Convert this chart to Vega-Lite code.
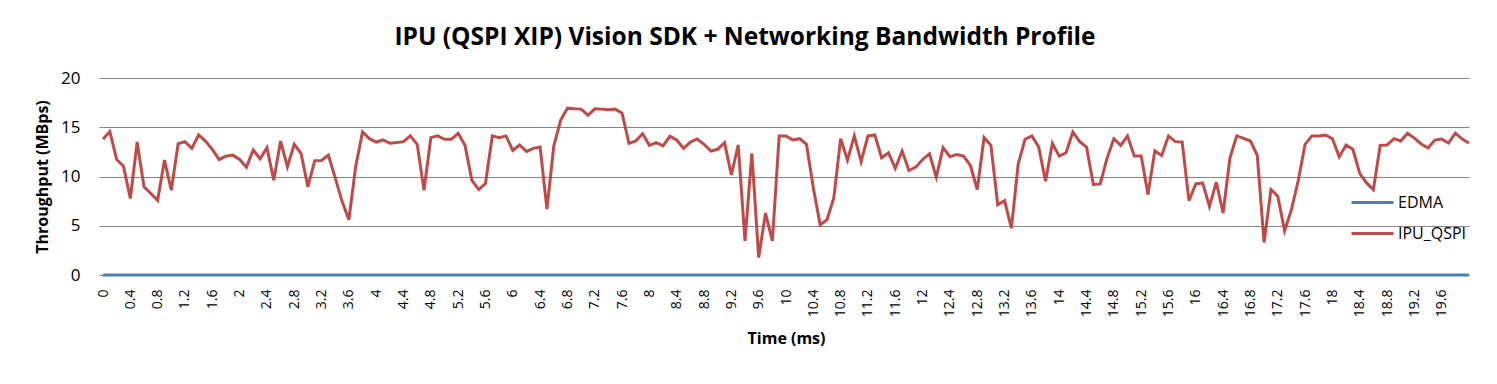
{
 "$schema": "https://vega.github.io/schema/vega-lite/v6.json",
 "width": 1366, "height": 197,
 "autosize": "none",
 "padding": {"left": 103, "top": 78, "right": 28, "bottom": 109},
 "background": "white",
 "title": {"text": "IPU (QSPI XIP) Vision SDK + Networking Bandwidth Profile", "anchor": "middle", "frame": "group", "dx": -41, "offset": 19, "fontSize": 24.5, "font": "Open Sans", "fontWeight": "bold", "color": "#000000"},
 "data": {"values": [
{"t":0,"EDMA":0,"IPU_QSPI":13.78},{"t":0.1,"EDMA":0,"IPU_QSPI":14.56},{"t":0.2,"EDMA":0,"IPU_QSPI":11.73},{"t":0.3,"EDMA":0,"IPU_QSPI":11.05},{"t":0.4,"EDMA":0,"IPU_QSPI":7.76},{"t":0.5,"EDMA":0,"IPU_QSPI":13.5},{"t":0.6,"EDMA":0,"IPU_QSPI":8.95},{"t":0.7,"EDMA":0,"IPU_QSPI":8.27},{"t":0.8,"EDMA":0,"IPU_QSPI":7.58},{"t":0.9,"EDMA":0,"IPU_QSPI":11.67},
{"t":1,"EDMA":0,"IPU_QSPI":8.6},{"t":1.1,"EDMA":0,"IPU_QSPI":13.33},{"t":1.2,"EDMA":0,"IPU_QSPI":13.54},{"t":1.3,"EDMA":0,"IPU_QSPI":12.86},{"t":1.4,"EDMA":0,"IPU_QSPI":14.22},{"t":1.5,"EDMA":0,"IPU_QSPI":13.6},{"t":1.6,"EDMA":0,"IPU_QSPI":12.76},{"t":1.7,"EDMA":0,"IPU_QSPI":11.73},{"t":1.8,"EDMA":0,"IPU_QSPI":12.07},{"t":1.9,"EDMA":0,"IPU_QSPI":12.17},
{"t":2,"EDMA":0,"IPU_QSPI":11.73},{"t":2.1,"EDMA":0,"IPU_QSPI":10.95},{"t":2.2,"EDMA":0,"IPU_QSPI":12.69},{"t":2.3,"EDMA":0,"IPU_QSPI":11.8},{"t":2.4,"EDMA":0,"IPU_QSPI":12.93},{"t":2.5,"EDMA":0,"IPU_QSPI":9.63},{"t":2.6,"EDMA":0,"IPU_QSPI":13.6},{"t":2.7,"EDMA":0,"IPU_QSPI":10.99},{"t":2.8,"EDMA":0,"IPU_QSPI":13.27},{"t":2.9,"EDMA":0,"IPU_QSPI":12.35},
{"t":3,"EDMA":0,"IPU_QSPI":8.95},{"t":3.1,"EDMA":0,"IPU_QSPI":11.6},{"t":3.2,"EDMA":0,"IPU_QSPI":11.63},{"t":3.3,"EDMA":0,"IPU_QSPI":12.17},{"t":3.4,"EDMA":0,"IPU_QSPI":9.86},{"t":3.5,"EDMA":0,"IPU_QSPI":7.48},{"t":3.6,"EDMA":0,"IPU_QSPI":5.61},{"t":3.7,"EDMA":0,"IPU_QSPI":11.05},{"t":3.8,"EDMA":0,"IPU_QSPI":14.52},{"t":3.9,"EDMA":0,"IPU_QSPI":13.84},
{"t":4,"EDMA":0,"IPU_QSPI":13.5},{"t":4.1,"EDMA":0,"IPU_QSPI":13.71},{"t":4.2,"EDMA":0,"IPU_QSPI":13.37},{"t":4.3,"EDMA":0,"IPU_QSPI":13.44},{"t":4.4,"EDMA":0,"IPU_QSPI":13.54},{"t":4.5,"EDMA":0,"IPU_QSPI":14.12},{"t":4.6,"EDMA":0,"IPU_QSPI":13.27},{"t":4.7,"EDMA":0,"IPU_QSPI":8.6},{"t":4.8,"EDMA":0,"IPU_QSPI":13.95},{"t":4.9,"EDMA":0,"IPU_QSPI":14.12},
{"t":5,"EDMA":0,"IPU_QSPI":13.78},{"t":5.1,"EDMA":0,"IPU_QSPI":13.78},{"t":5.2,"EDMA":0,"IPU_QSPI":14.39},{"t":5.3,"EDMA":0,"IPU_QSPI":13.16},{"t":5.4,"EDMA":0,"IPU_QSPI":9.63},{"t":5.5,"EDMA":0,"IPU_QSPI":8.67},{"t":5.6,"EDMA":0,"IPU_QSPI":9.29},{"t":5.7,"EDMA":0,"IPU_QSPI":14.12},{"t":5.8,"EDMA":0,"IPU_QSPI":13.95},{"t":5.9,"EDMA":0,"IPU_QSPI":14.12},
{"t":6,"EDMA":0,"IPU_QSPI":12.65},{"t":6.1,"EDMA":0,"IPU_QSPI":13.2},{"t":6.2,"EDMA":0,"IPU_QSPI":12.55},{"t":6.3,"EDMA":0,"IPU_QSPI":12.86},{"t":6.4,"EDMA":0,"IPU_QSPI":12.99},{"t":6.5,"EDMA":0,"IPU_QSPI":6.7},{"t":6.6,"EDMA":0,"IPU_QSPI":13.1},{"t":6.7,"EDMA":0,"IPU_QSPI":15.71},{"t":6.8,"EDMA":0,"IPU_QSPI":16.94},{"t":6.9,"EDMA":0,"IPU_QSPI":16.87},
{"t":7,"EDMA":0,"IPU_QSPI":16.84},{"t":7.1,"EDMA":0,"IPU_QSPI":16.22},{"t":7.2,"EDMA":0,"IPU_QSPI":16.87},{"t":7.3,"EDMA":0,"IPU_QSPI":16.84},{"t":7.4,"EDMA":0,"IPU_QSPI":16.77},{"t":7.5,"EDMA":0,"IPU_QSPI":16.84},{"t":7.6,"EDMA":0,"IPU_QSPI":16.43},{"t":7.7,"EDMA":0,"IPU_QSPI":13.37},{"t":7.8,"EDMA":0,"IPU_QSPI":13.6},{"t":7.9,"EDMA":0,"IPU_QSPI":14.35},
{"t":8,"EDMA":0,"IPU_QSPI":13.16},{"t":8.1,"EDMA":0,"IPU_QSPI":13.44},{"t":8.2,"EDMA":0,"IPU_QSPI":13.1},{"t":8.3,"EDMA":0,"IPU_QSPI":14.08},{"t":8.4,"EDMA":0,"IPU_QSPI":13.71},{"t":8.5,"EDMA":0,"IPU_QSPI":12.86},{"t":8.6,"EDMA":0,"IPU_QSPI":13.5},{"t":8.7,"EDMA":0,"IPU_QSPI":13.81},{"t":8.8,"EDMA":0,"IPU_QSPI":13.27},{"t":8.9,"EDMA":0,"IPU_QSPI":12.59},
{"t":9,"EDMA":0,"IPU_QSPI":12.76},{"t":9.1,"EDMA":0,"IPU_QSPI":13.44},{"t":9.2,"EDMA":0,"IPU_QSPI":10.15},{"t":9.3,"EDMA":0,"IPU_QSPI":13.2},{"t":9.4,"EDMA":0,"IPU_QSPI":3.47},{"t":9.5,"EDMA":0,"IPU_QSPI":12.35},{"t":9.6,"EDMA":0,"IPU_QSPI":1.77},{"t":9.7,"EDMA":0,"IPU_QSPI":6.29},{"t":9.8,"EDMA":0,"IPU_QSPI":3.47},{"t":9.9,"EDMA":0,"IPU_QSPI":14.12},
{"t":10,"EDMA":0,"IPU_QSPI":14.12},{"t":10.1,"EDMA":0,"IPU_QSPI":13.71},{"t":10.2,"EDMA":0,"IPU_QSPI":13.84},{"t":10.3,"EDMA":0,"IPU_QSPI":13.27},{"t":10.4,"EDMA":0,"IPU_QSPI":8.84},{"t":10.5,"EDMA":0,"IPU_QSPI":5.1},{"t":10.6,"EDMA":0,"IPU_QSPI":5.61},{"t":10.7,"EDMA":0,"IPU_QSPI":7.82},{"t":10.8,"EDMA":0,"IPU_QSPI":13.84},{"t":10.9,"EDMA":0,"IPU_QSPI":11.67},
{"t":11,"EDMA":0,"IPU_QSPI":14.12},{"t":11.1,"EDMA":0,"IPU_QSPI":11.5},{"t":11.2,"EDMA":0,"IPU_QSPI":14.12},{"t":11.3,"EDMA":0,"IPU_QSPI":14.22},{"t":11.4,"EDMA":0,"IPU_QSPI":11.9},{"t":11.5,"EDMA":0,"IPU_QSPI":12.41},{"t":11.6,"EDMA":0,"IPU_QSPI":10.82},{"t":11.7,"EDMA":0,"IPU_QSPI":12.59},{"t":11.8,"EDMA":0,"IPU_QSPI":10.61},{"t":11.9,"EDMA":0,"IPU_QSPI":10.95},
{"t":12,"EDMA":0,"IPU_QSPI":11.73},{"t":12.1,"EDMA":0,"IPU_QSPI":12.31},{"t":12.2,"EDMA":0,"IPU_QSPI":9.95},{"t":12.3,"EDMA":0,"IPU_QSPI":12.93},{"t":12.4,"EDMA":0,"IPU_QSPI":12.01},{"t":12.5,"EDMA":0,"IPU_QSPI":12.24},{"t":12.6,"EDMA":0,"IPU_QSPI":12.07},{"t":12.7,"EDMA":0,"IPU_QSPI":11.12},{"t":12.8,"EDMA":0,"IPU_QSPI":8.67},{"t":12.9,"EDMA":0,"IPU_QSPI":13.95},
{"t":13,"EDMA":0,"IPU_QSPI":13.16},{"t":13.1,"EDMA":0,"IPU_QSPI":7.14},{"t":13.2,"EDMA":0,"IPU_QSPI":7.55},{"t":13.3,"EDMA":0,"IPU_QSPI":4.76},{"t":13.4,"EDMA":0,"IPU_QSPI":11.29},{"t":13.5,"EDMA":0,"IPU_QSPI":13.78},{"t":13.6,"EDMA":0,"IPU_QSPI":14.12},{"t":13.7,"EDMA":0,"IPU_QSPI":12.99},{"t":13.8,"EDMA":0,"IPU_QSPI":9.52},{"t":13.9,"EDMA":0,"IPU_QSPI":13.37},
{"t":14,"EDMA":0,"IPU_QSPI":12.07},{"t":14.1,"EDMA":0,"IPU_QSPI":12.41},{"t":14.2,"EDMA":0,"IPU_QSPI":14.52},{"t":14.3,"EDMA":0,"IPU_QSPI":13.54},{"t":14.4,"EDMA":0,"IPU_QSPI":12.99},{"t":14.5,"EDMA":0,"IPU_QSPI":9.18},{"t":14.6,"EDMA":0,"IPU_QSPI":9.25},{"t":14.7,"EDMA":0,"IPU_QSPI":11.84},{"t":14.8,"EDMA":0,"IPU_QSPI":13.84},{"t":14.9,"EDMA":0,"IPU_QSPI":13.16},
{"t":15,"EDMA":0,"IPU_QSPI":14.12},{"t":15.1,"EDMA":0,"IPU_QSPI":12.07},{"t":15.2,"EDMA":0,"IPU_QSPI":12.07},{"t":15.3,"EDMA":0,"IPU_QSPI":8.16},{"t":15.4,"EDMA":0,"IPU_QSPI":12.6},{"t":15.5,"EDMA":0,"IPU_QSPI":12.14},{"t":15.6,"EDMA":0,"IPU_QSPI":14.12},{"t":15.7,"EDMA":0,"IPU_QSPI":13.54},{"t":15.8,"EDMA":0,"IPU_QSPI":13.5},{"t":15.9,"EDMA":0,"IPU_QSPI":7.55},
{"t":16,"EDMA":0,"IPU_QSPI":9.25},{"t":16.1,"EDMA":0,"IPU_QSPI":9.35},{"t":16.2,"EDMA":0,"IPU_QSPI":6.97},{"t":16.3,"EDMA":0,"IPU_QSPI":9.42},{"t":16.4,"EDMA":0,"IPU_QSPI":6.29},{"t":16.5,"EDMA":0,"IPU_QSPI":11.9},{"t":16.6,"EDMA":0,"IPU_QSPI":14.12},{"t":16.7,"EDMA":0,"IPU_QSPI":13.88},{"t":16.8,"EDMA":0,"IPU_QSPI":13.6},{"t":16.9,"EDMA":0,"IPU_QSPI":12.14},
{"t":17,"EDMA":0,"IPU_QSPI":3.3},{"t":17.1,"EDMA":0,"IPU_QSPI":8.67},{"t":17.2,"EDMA":0,"IPU_QSPI":7.99},{"t":17.3,"EDMA":0,"IPU_QSPI":4.49},{"t":17.4,"EDMA":0,"IPU_QSPI":6.63},{"t":17.5,"EDMA":0,"IPU_QSPI":9.59},{"t":17.6,"EDMA":0,"IPU_QSPI":13.27},{"t":17.7,"EDMA":0,"IPU_QSPI":14.12},{"t":17.8,"EDMA":0,"IPU_QSPI":14.12},{"t":17.9,"EDMA":0,"IPU_QSPI":14.22},
{"t":18,"EDMA":0,"IPU_QSPI":13.84},{"t":18.1,"EDMA":0,"IPU_QSPI":12.01},{"t":18.2,"EDMA":0,"IPU_QSPI":13.2},{"t":18.3,"EDMA":0,"IPU_QSPI":12.76},{"t":18.4,"EDMA":0,"IPU_QSPI":10.31},{"t":18.5,"EDMA":0,"IPU_QSPI":9.35},{"t":18.6,"EDMA":0,"IPU_QSPI":8.67},{"t":18.7,"EDMA":0,"IPU_QSPI":13.16},{"t":18.8,"EDMA":0,"IPU_QSPI":13.2},{"t":18.9,"EDMA":0,"IPU_QSPI":13.84},
{"t":19,"EDMA":0,"IPU_QSPI":13.6},{"t":19.1,"EDMA":0,"IPU_QSPI":14.4},{"t":19.2,"EDMA":0,"IPU_QSPI":13.9},{"t":19.3,"EDMA":0,"IPU_QSPI":13.3},{"t":19.4,"EDMA":0,"IPU_QSPI":12.9},{"t":19.5,"EDMA":0,"IPU_QSPI":13.7},{"t":19.6,"EDMA":0,"IPU_QSPI":13.8},{"t":19.7,"EDMA":0,"IPU_QSPI":13.4},{"t":19.8,"EDMA":0,"IPU_QSPI":14.4},{"t":19.9,"EDMA":0,"IPU_QSPI":13.8},
{"t":20,"EDMA":0,"IPU_QSPI":13.4}
 ]},
 "transform": [{"fold": ["EDMA", "IPU_QSPI"], "as": ["series", "value"]}],
 "mark": {"type": "line", "strokeWidth": 3},
 "encoding": {
  "x": {"field": "t", "type": "quantitative",
   "scale": {"domain": [0, 20], "nice": false, "zero": false},
   "axis": {"title": "Time (ms)", "values": [0,0.4,0.8,1.2,1.6,2,2.4,2.8,3.2,3.6,4,4.4,4.8,5.2,5.6,6,6.4,6.8,7.2,7.6,8,8.4,8.8,9.2,9.6,10,10.4,10.8,11.2,11.6,12,12.4,12.8,13.2,13.6,14,14.4,14.8,15.2,15.6,16,16.4,16.8,17.2,17.6,18,18.4,18.8,19.2,19.6],
    "format": "~g", "labelAngle": -90, "labelFontSize": 14, "labelFont": "Open Sans", "labelColor": "#000000", "labelPadding": 14, "ticks": false, "domain": false, "grid": false, "labelOverlap": false, "labelBound": false, "labelFlush": false,
    "titleFont": "Open Sans", "titleFontSize": 16, "titleFontWeight": "bold", "titleColor": "#000000", "titlePadding": 14}},
  "y": {"field": "value", "type": "quantitative",
   "scale": {"domain": [0, 20], "nice": false},
   "axis": {"title": "Throughput (MBps)", "values": [0,5,10,15,20], "grid": true, "gridColor": "#868686", "gridWidth": 1, "domain": false, "tickColor": "#868686", "tickSize": 4, "labelPadding": 19, "labelFontSize": 17, "labelFont": "Open Sans", "labelColor": "#000000",
    "titleFont": "Open Sans", "titleFontSize": 16, "titleFontWeight": "bold", "titleColor": "#000000", "titlePadding": 10}},
  "color": {"field": "series", "type": "nominal",
   "scale": {"domain": ["EDMA", "IPU_QSPI"], "range": ["#4A7EBB", "#BE4B48"]},
   "legend": {"title": null, "orient": "none", "legendX": 1247, "legendY": 102, "symbolType": "M-1,0H1", "symbolSize": 1764, "symbolStrokeWidth": 3, "labelFont": "Open Sans", "labelFontSize": 16, "labelColor": "#000000", "labelOffset": 3, "rowPadding": -5}}
 },
 "config": {"view": {"stroke": null}}
}
